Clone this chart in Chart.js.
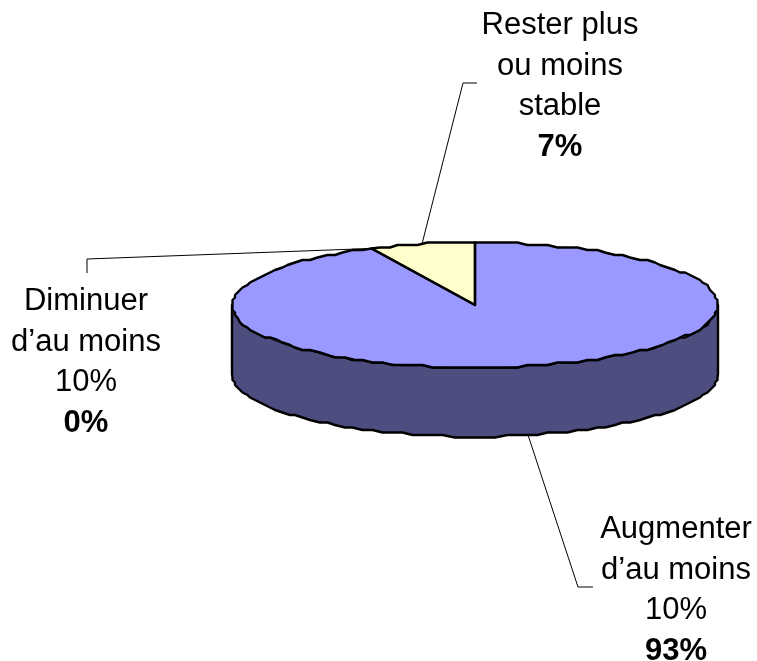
<!DOCTYPE html>
<html lang="fr">
<head>
<meta charset="utf-8">
<title>Répartition des réponses</title>
<style>
  html, body { margin: 0; padding: 0; background: #fff; }
  canvas { display: block; }
</style>
<script src="https://cdn.jsdelivr.net/npm/chart.js@4"></script>
</head>
<body>
<canvas id="pie" width="757" height="661"></canvas>
<script>
// Slices run clockwise from twelve o'clock.
const categories = [
  ["Augmenter", "d’au moins", "10%"],
  ["Diminuer", "d’au moins", "10%"],
  ["Rester plus", "ou moins", "stable"]
];
const shares = [93, 0, 7];
const sliceColors = ["#9999FF", "#9999FF", "#FFFFCC"];
const sideColors = ["#4D4D80", "#4D4D80", "#808066"];

// Label blocks: horizontal centre, first baseline, and the bent leader line end.
const labelCentres = [[676, 538], [86, 310], [560, 34]];
const leaderEnds = [
  [[578, 587], [593, 587]],
  [[87, 259], [87, 273]],
  [[463, 83], [477, 83]]
];

const TILT = 62.5 / 243;     // vertical squash of the disc
const DISC_Y = 305;          // screen y of the disc centre
const DEPTH = 69;            // height of the extruded rim
const LINE_STEP = 40.5;
const EDGE_WIDTH = 2.4;
const FONT = '"Liberation Sans", Arial, sans-serif';

// Screen position of a point on the rim of the squashed disc.
function rimPoint(arc, angle, drop) {
  const x = arc.x + arc.outerRadius * Math.cos(angle);
  const y = DISC_Y + arc.outerRadius * TILT * Math.sin(angle) + (drop || 0);
  return [x, y];
}

// The coarse plotting grid gives the rim its slightly faceted edge.
function traceRim(ctx, arc, from, to, drop) {
  const steps = Math.max(1, Math.ceil(Math.abs(to - from) / (2.5 * Math.PI / 180)));
  for (let i = 0; i <= steps; i++) {
    const a = from + (to - from) * i / steps;
    let [x, y] = rimPoint(arc, a, drop);
    if (i > 0 && i < steps) {
      y = Math.round(y / 2.5) * 2.5;
      x = Math.round(x / 2.5) * 2.5;
    }
    ctx.lineTo(x, y);
  }
}

const disc3d = {
  id: "disc3d",
  beforeDatasetsDraw(chart) {
    const { ctx } = chart;
    const arcs = chart.getDatasetMeta(0).data;
    ctx.save();
    ctx.lineWidth = EDGE_WIDTH;
    ctx.strokeStyle = "#000";
    ctx.lineJoin = "round";
    // Rim: only the part of each slice facing the viewer.
    arcs.forEach((arc, i) => {
      [-2 * Math.PI, 0, 2 * Math.PI].forEach(turn => {
        const from = Math.max(arc.startAngle + turn, 0);
        const to = Math.min(arc.endAngle + turn, Math.PI);
        if (to <= from) return;
        ctx.beginPath();
        const [x0, y0] = rimPoint(arc, from);
        ctx.moveTo(x0, y0);
        traceRim(ctx, arc, from, to, DEPTH);
        traceRim(ctx, arc, to, from, 0);
        ctx.closePath();
        ctx.fillStyle = sideColors[i];
        ctx.fill();
        ctx.stroke();
      });
    });
    ctx.restore();
    // Library arcs are drawn flat, then squashed about the disc centre.
    const a = arcs[0];
    ctx.save();
    ctx.translate(0, DISC_Y);
    ctx.scale(1, TILT);
    ctx.translate(0, -a.y);
  },
  afterDatasetsDraw(chart) {
    const { ctx } = chart;
    const arcs = chart.getDatasetMeta(0).data;
    ctx.restore();

    ctx.save();
    ctx.lineWidth = EDGE_WIDTH;
    ctx.strokeStyle = "#000";
    ctx.lineJoin = "round";
    arcs.forEach((arc, i) => {
      if (shares[i] === 0) return;
      ctx.beginPath();
      ctx.moveTo(arc.x, DISC_Y);
      traceRim(ctx, arc, arc.startAngle, arc.endAngle, 0);
      ctx.closePath();
      ctx.stroke();
    });

    // Leader lines start on the rim at the middle of each slice.
    ctx.lineWidth = 1;
    ctx.strokeStyle = "#000";
    arcs.forEach((arc, i) => {
      const mid = (arc.startAngle + arc.endAngle) / 2;
      const front = Math.sin(mid) > 0;
      const [sx, sy] = rimPoint(arc, mid, front ? DEPTH : 0);
      ctx.beginPath();
      ctx.moveTo(sx, sy);
      leaderEnds[i].forEach(([x, y]) => ctx.lineTo(x, y));
      ctx.stroke();
    });

    // Category name followed by its share in bold.
    ctx.fillStyle = "#000";
    ctx.textAlign = "center";
    ctx.textBaseline = "alphabetic";
    categories.forEach((lines, i) => {
      const [cx, y0] = labelCentres[i];
      ctx.font = "31px " + FONT;
      lines.forEach((text, l) => ctx.fillText(text, cx, y0 + l * LINE_STEP));
      ctx.font = "bold 31px " + FONT;
      ctx.fillText(shares[i] + "%", cx, y0 + lines.length * LINE_STEP);
    });
    ctx.restore();
  }
};

new Chart(document.getElementById("pie"), {
  type: "pie",
  data: {
    labels: categories.map(l => l.join(" ")),
    datasets: [{
      data: shares,
      backgroundColor: sliceColors,
      borderWidth: 0,
      hoverOffset: 0
    }]
  },
  options: {
    responsive: false,
    animation: false,
    events: [],
    layout: { padding: { left: 232, right: 39, top: 87, bottom: 88 } },
    plugins: { legend: { display: false }, tooltip: { enabled: false } }
  },
  plugins: [disc3d]
});
</script>
</body>
</html>
